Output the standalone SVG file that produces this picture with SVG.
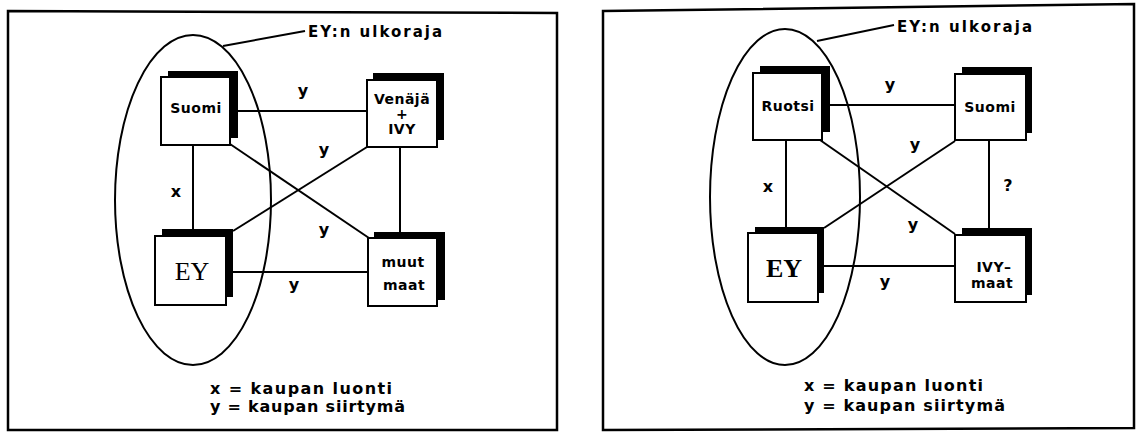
<svg xmlns="http://www.w3.org/2000/svg" width="1143" height="432" viewBox="0 0 1143 432">
<style>
.frame{fill:none;stroke:#000;stroke-width:2.5}
.ell{fill:none;stroke:#000;stroke-width:2}
.con line{stroke:#000;stroke-width:2}
.sh{fill:#000}
.bx{fill:#fff;stroke:#000;stroke-width:2}
.t{font-family:"DejaVu Sans","Liberation Sans",sans-serif;font-weight:bold;fill:#000}
.nt{font-size:14px;text-anchor:middle;letter-spacing:0.5px}
.lb{font-size:16px;text-anchor:middle}
.ey{font-family:"Liberation Serif","Times New Roman",serif;font-size:26px;text-anchor:middle;fill:#000}
.lg{font-size:16px}
</style>
<rect width="1143" height="432" fill="#fff"/>

<!-- Left panel -->
<g id="left-panel">
<polygon class="frame" points="8,11 557,13 557,430 8,430"/>
<ellipse id="L-boundary" class="ell" cx="193" cy="200" rx="78" ry="165"/>
<line x1="223" y1="46" x2="305" y2="31" stroke="#000" stroke-width="2"/>
<text class="t" x="308" y="37" font-size="15" textLength="134" lengthAdjust="spacing">EY:n ulkoraja</text>
<g id="L-connectors" class="con">
<line x1="238" y1="111" x2="367" y2="111"/>
<line x1="193" y1="145" x2="193" y2="230"/>
<line x1="230" y1="144" x2="369" y2="238"/>
<line x1="233" y1="231" x2="367" y2="147"/>
<line x1="233" y1="272" x2="368" y2="272"/>
<line x1="400" y1="147" x2="400" y2="232"/>
</g>
<g id="L-suomi">
<rect class="sh" x="168" y="71" width="70" height="67"/>
<rect class="bx" x="161" y="77" width="69" height="68"/>
<text class="t nt" x="196" y="113">Suomi</text>
</g>
<g id="L-venaja">
<rect class="sh" x="373" y="73" width="71" height="67"/>
<rect class="bx" x="367" y="80" width="70" height="67"/>
<text class="t nt" x="402" y="104">Venäjä</text>
<text class="t nt" x="402" y="119">+</text>
<text class="t nt" x="402" y="134">IVY</text>
</g>
<g id="L-ey">
<rect class="sh" x="162" y="229" width="71" height="68"/>
<rect class="bx" x="155" y="236" width="71" height="69"/>
<text class="ey" x="192" y="280">EY</text>
</g>
<g id="L-muut">
<rect class="sh" x="374" y="232" width="71" height="68"/>
<rect class="bx" x="368" y="238" width="69" height="68"/>
<text class="t nt" x="403" y="267">muut</text>
<text class="t nt" x="404" y="290">maat</text>
</g>
<g id="L-labels">
<text class="t lb" x="303" y="96">y</text>
<text class="t lb" x="324" y="155">y</text>
<text class="t lb" x="176" y="197">x</text>
<text class="t lb" x="324" y="235">y</text>
<text class="t lb" x="294" y="290">y</text>
</g>
<g id="L-legend">
<text class="t lg" x="210" y="394" textLength="182" lengthAdjust="spacing">x = kaupan luonti</text>
<text class="t lg" x="210" y="412" textLength="195" lengthAdjust="spacing">y = kaupan siirtymä</text>
</g>
</g>

<!-- Right panel -->
<g id="right-panel">
<polygon class="frame" points="603,11 1134,4 1134,428 603,430"/>
<ellipse id="R-boundary" class="ell" cx="785" cy="197" rx="75" ry="168"/>
<line x1="817" y1="41" x2="894" y2="25" stroke="#000" stroke-width="2"/>
<text class="t" x="897" y="32" font-size="15" textLength="135" lengthAdjust="spacing">EY:n ulkoraja</text>
<g id="R-connectors" class="con">
<line x1="830" y1="105" x2="955" y2="105"/>
<line x1="786" y1="140" x2="786" y2="227"/>
<line x1="820" y1="140" x2="955" y2="234"/>
<line x1="824" y1="228" x2="955" y2="141"/>
<line x1="824" y1="266" x2="955" y2="266"/>
<line x1="989" y1="140" x2="989" y2="228"/>
</g>
<g id="R-ruotsi">
<rect class="sh" x="760" y="66" width="70" height="66"/>
<rect class="bx" x="753" y="73" width="69" height="67"/>
<text class="t nt" x="788" y="111">Ruotsi</text>
</g>
<g id="R-suomi">
<rect class="sh" x="962" y="67" width="70" height="66"/>
<rect class="bx" x="955" y="74" width="71" height="66"/>
<text class="t nt" x="990" y="112">Suomi</text>
</g>
<g id="R-ey">
<rect class="sh" x="755" y="227" width="69" height="66"/>
<rect class="bx" x="748" y="233" width="70" height="69"/>
<text class="ey" x="784" y="277" font-weight="bold">EY</text>
</g>
<g id="R-ivy">
<rect class="sh" x="962" y="228" width="70" height="67"/>
<rect class="bx" x="955" y="235" width="71" height="67"/>
<text class="t nt" x="994" y="272">IVY–</text>
<text class="t nt" x="992" y="288">maat</text>
</g>
<g id="R-labels">
<text class="t lb" x="890" y="90">y</text>
<text class="t lb" x="915" y="150">y</text>
<text class="t lb" x="768" y="192">x</text>
<text class="t lb" x="1008" y="191">?</text>
<text class="t lb" x="913" y="230">y</text>
<text class="t lb" x="885" y="287">y</text>
</g>
<g id="R-legend">
<text class="t lg" x="804" y="391" textLength="179" lengthAdjust="spacing">x = kaupan luonti</text>
<text class="t lg" x="804" y="411" textLength="201" lengthAdjust="spacing">y = kaupan siirtymä</text>
</g>
</g>
</svg>
